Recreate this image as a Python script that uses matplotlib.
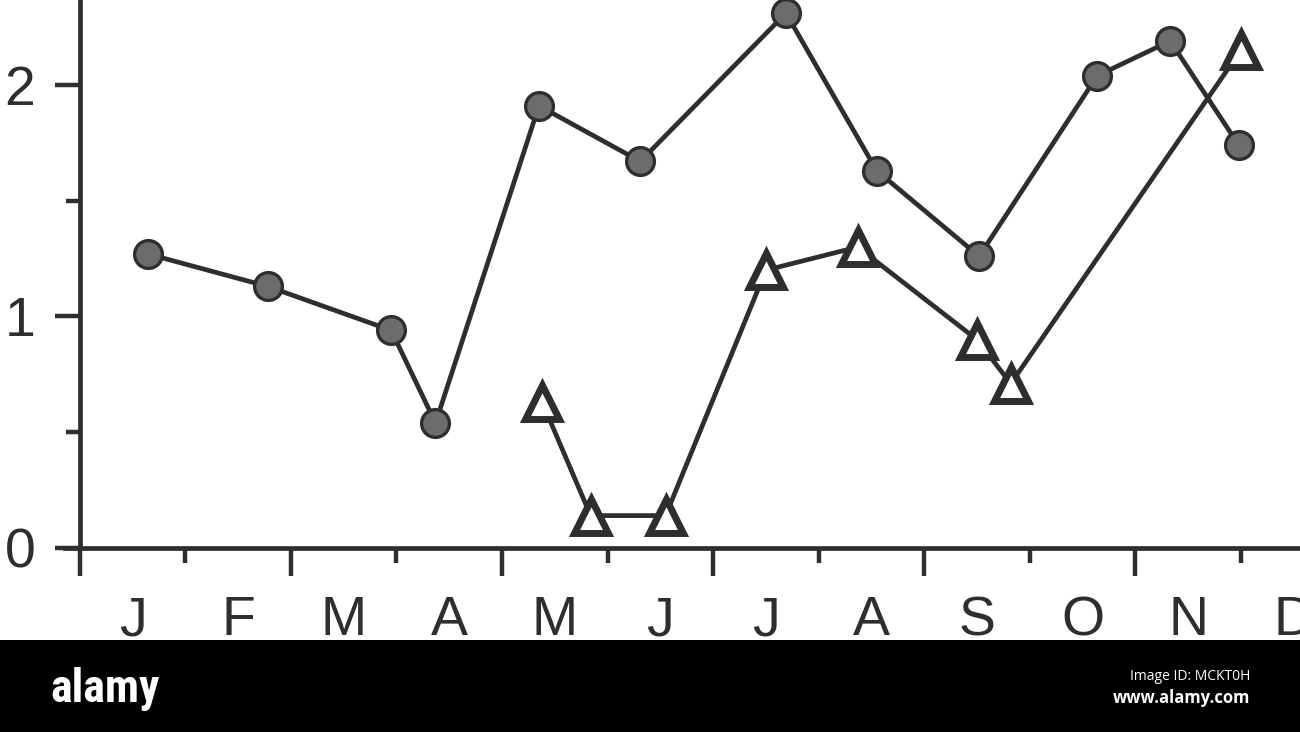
import matplotlib
matplotlib.use("Agg")
import matplotlib.pyplot as plt
from matplotlib.patches import Rectangle
from matplotlib.ticker import FixedLocator, NullFormatter

# month position: 0 = 1 January, 1 = 1 February, ...
circle_month = [0.645, 1.78, 2.95, 3.37, 4.35, 5.31, 6.69, 7.55, 8.52, 9.64, 10.33, 10.98]
circle_value = [1.27, 1.13, 0.94, 0.54, 1.91, 1.67, 2.31, 1.63, 1.26, 2.04, 2.19, 1.74]

triangle_month = [4.38, 4.84, 5.55, 6.50, 7.37, 8.50, 8.82, 11.0]
triangle_value = [0.63, 0.14, 0.14, 1.20, 1.30, 0.90, 0.71, 2.15]

month_labels = ["J", "F", "M", "A", "M", "J", "J", "A", "S", "O", "N", "D"]
y_ticks = [0, 1, 2]
y_minor = [0.5, 1.5]

ink = "#2e2e2e"
plt.rcParams["font.family"] = ["Liberation Sans", "DejaVu Sans"]

fig = plt.figure(figsize=(13, 7.32), dpi=100)
ax = fig.add_axes([65 / 1300, 1 - 548 / 732, 1235 / 1300, 548 / 732])
ax.set_xlim(-0.14, 11.56)
ax.set_ylim(0, 2.367)

ax.plot(circle_month, circle_value, color=ink, linewidth=3.4, marker="o",
        markersize=20, markerfacecolor="#6c6c6c", markeredgecolor=ink,
        markeredgewidth=2.4, zorder=3)
ax.plot(triangle_month, triangle_value, color=ink, linewidth=3.4, marker="^",
        markersize=25, markerfacecolor="white", markeredgecolor=ink,
        markeredgewidth=5.0, zorder=4)

for side in ["top", "right"]:
    ax.spines[side].set_visible(False)
ax.spines["left"].set_position(("data", 0))
for side in ["left", "bottom"]:
    ax.spines[side].set_linewidth(3.4)
    ax.spines[side].set_color(ink)

# y axis ticks
ax.yaxis.set_major_locator(FixedLocator(y_ticks))
ax.yaxis.set_minor_locator(FixedLocator(y_minor))
ax.set_yticklabels([str(v) for v in y_ticks])
ax.tick_params(axis="y", which="major", length=18, width=3.2, color=ink,
               labelsize=40, labelcolor=ink, pad=14)
ax.tick_params(axis="y", which="minor", length=10, width=3.2, color=ink)

# x axis: long ticks every second month boundary, short in between
ax.xaxis.set_major_locator(FixedLocator(range(0, 12, 2)))
ax.xaxis.set_minor_locator(FixedLocator(range(1, 12, 2)))
ax.xaxis.set_major_formatter(NullFormatter())
ax.tick_params(axis="x", which="major", length=20, width=3.2, color=ink)
ax.tick_params(axis="x", which="minor", length=11, width=3.2, color=ink)

sec = ax.secondary_xaxis("bottom")
sec.set_xticks([i + 0.5 for i in range(12)], month_labels)
sec.tick_params(length=0, pad=34, labelsize=40, labelcolor=ink)
sec.spines["bottom"].set_visible(False)

# stock photo banner
fig.add_artist(Rectangle((0, 0), 1, 92 / 732, transform=fig.transFigure,
                         facecolor="black", edgecolor="none", zorder=5))
fig.text(50 / 1300, 1 - 702 / 732, "alamy", color="white", fontsize=33,
         fontweight="bold",
         family=["Liberation Sans Narrow", "Roboto Condensed", "Roboto"],
         ha="left", va="baseline", zorder=6)
fig.text(1250 / 1300, 1 - 680 / 732, "Image ID: MCKT0H", color="white",
         fontsize=10, family=["Open Sans", "DejaVu Sans"], ha="right",
         va="baseline", zorder=6)
fig.text(1250 / 1300, 1 - 703 / 732, "www.alamy.com", color="white",
         fontsize=12, fontweight="bold", family=["Open Sans", "DejaVu Sans"],
         ha="right", va="baseline", zorder=6)

fig.savefig("out.png", dpi=100, facecolor="white")
